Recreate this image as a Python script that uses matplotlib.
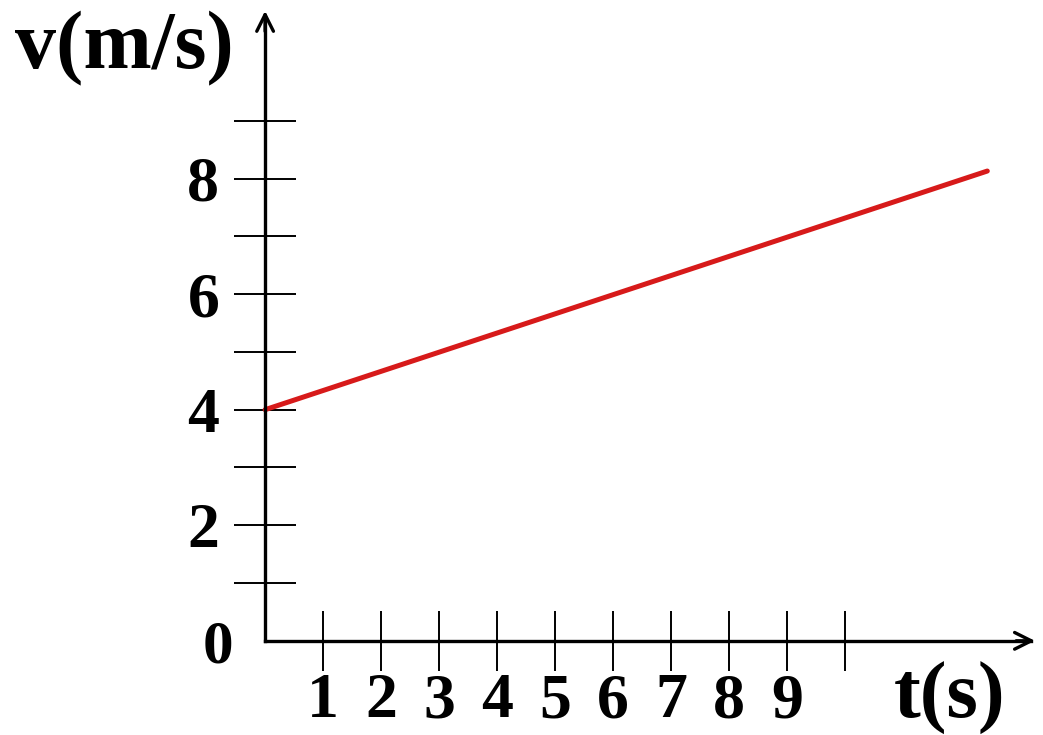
import matplotlib
matplotlib.use('Agg')
import matplotlib.pyplot as plt

# data
t = [0.0, 12.45]
v = [4.0, 8.13]

x_ticks = [1, 2, 3, 4, 5, 6, 7, 8, 9, 10]
x_labels = ['1', '2', '3', '4', '5', '6', '7', '8', '9', '']
y_major = [2, 4, 6, 8]
y_minor = [1, 3, 5, 7, 9]

plt.rcParams['font.family'] = ['Liberation Serif', 'DejaVu Serif']
plt.rcParams['font.weight'] = 'bold'

fig = plt.figure(figsize=(10.43, 7.35), dpi=100)
ax = fig.add_axes([0, 0, 1, 1])
ax.set_xlim(-4.57, 13.41)
ax.set_ylim(-1.63, 11.09)

for s in ['top', 'right']:
	ax.spines[s].set_visible(False)
ax.spines['left'].set_position(('data', 0))
ax.spines['bottom'].set_position(('data', 0))
ax.spines['left'].set_bounds(0, 10.8)
ax.spines['bottom'].set_bounds(0, 13.2)
ax.spines['left'].set_linewidth(2.4)
ax.spines['bottom'].set_linewidth(2.4)

# arrow heads
ax.annotate('', xy=(13.32, 0), xytext=(12.9, 0),
	arrowprops=dict(arrowstyle='->', lw=2.4, color='black', mutation_scale=30))
ax.annotate('', xy=(0, 10.95), xytext=(0, 10.5),
	arrowprops=dict(arrowstyle='->', lw=2.4, color='black', mutation_scale=30))

ax.set_xticks(x_ticks)
ax.set_xticklabels(x_labels)
ax.set_yticks(y_major)
ax.set_yticks(y_minor, minor=True)
ax.tick_params(axis='x', direction='inout', length=43, width=1.4, pad=2, labelsize=46)
ax.tick_params(axis='y', which='both', direction='inout', length=44, width=1.4, pad=11, labelsize=46)
ax.tick_params(axis='y', which='minor', labelleft=False)

ax.plot(t, v, color='#d71a1a', lw=3.6, solid_capstyle='round')

ax.text(-0.82, -0.12, '0', fontsize=44, fontweight='bold', ha='center', va='center')
ax.text(-2.42, 10.25, 'v(m/s)', fontsize=59, fontweight='bold', ha='center', va='center')
ax.text(11.8, -1.0, 't(s)', fontsize=58, fontweight='bold', ha='center', va='center')

fig.savefig('out.png', dpi=100)
plt.close('all')
